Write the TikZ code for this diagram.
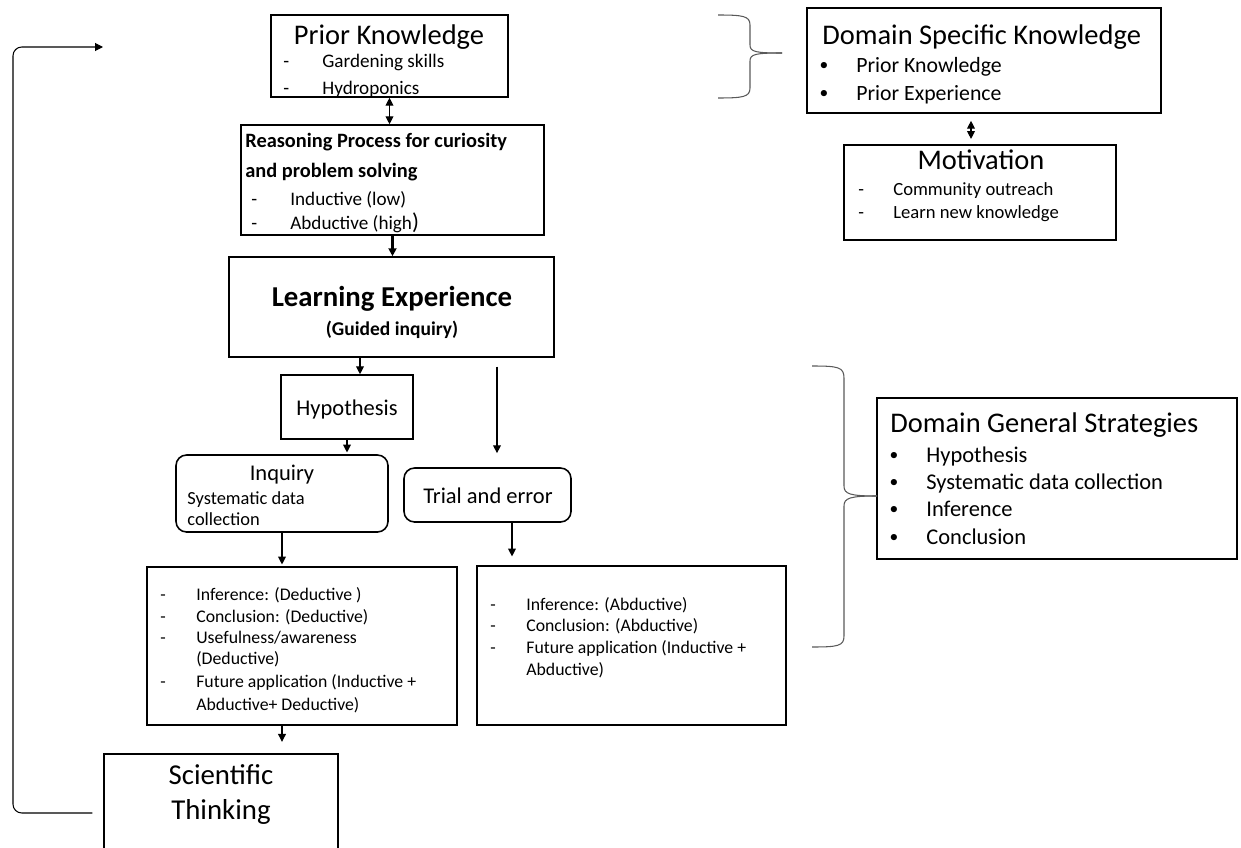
\documentclass[tikz,border=0pt]{standalone}
\usepackage{fontspec}
\setmainfont{Carlito}
\usetikzlibrary{arrows.meta,fit}
\newcommand\fsz[1]{\fontsize{#1pt}{#1pt}\selectfont}

\begin{document}
\begin{tikzpicture}[x=0.02cm,y=-0.02cm,
  box/.style={draw, line width=0.9pt, inner sep=0pt, fit={#1}},
  rbox/.style={box={#1}, rounded corners=6pt},
  txt/.style={inner sep=0pt, anchor=mid west},
  ctxt/.style={inner sep=0pt, anchor=mid},
  arr/.style={line width=0.6pt, -{Triangle[length=4.5pt,width=4.5pt]}},
  dblarr/.style={line width=0.6pt, {Triangle[length=4.5pt,width=4.5pt]}-{Triangle[length=4.5pt,width=4.5pt]}},
  brace/.style={draw=black!65, line width=0.6pt},
  title/.style={font=\fsz{16.2}},
  item/.style={txt, font=\fsz{#1}},
  bul/.style={inner sep=0pt, anchor=center, font=\fsz{10}}
]
\useasboundingbox (0,0) rectangle (1241,848);
\clip (0,0) rectangle (1241,848);

% ---------- boxes ----------
\node[box={(271,15) (508,97)}] (pk) {};
\node[box={(241,125) (544,235)}] (reas) {};
\node[box={(229,257) (554,357)}] (learn) {};
\node[box={(281,375) (413,439)}] (hyp) {};
\node[rbox={(176,455) (388,532)}] (inq) {};
\node[rbox={(404,468) (571,522)}] (trial) {};
\node[box={(147,567) (457,725)}] (ded) {};
\node[box={(477,566) (786,725)}] (abd) {};
\node[box={(104,754) (338,872)}] (sci) {};
\node[box={(807,8) (1161,113)}] (dsk) {};
\node[box={(844,145) (1116,240)}] (mot) {};
\node[box={(877,398) (1237,559)}] (dgs) {};

% ---------- texts ----------
\node[ctxt, title] (pkt) at (389,40) {Prior Knowledge};
\node[item=10.9] (pkd1) at (283,63) {-};
\node[item=10.9] (pki1) at (322,63) {Gardening skills};
\node[item=10.9] (pkd2) at (283,90) {-};
\node[item=10.9] (pki2) at (322,90) {Hydroponics};

\node[txt, font=\fsz{11.6}\bfseries] (rt1) at (245,143) {Reasoning Process for curiosity};
\node[txt, font=\fsz{11.6}\bfseries] (rt2) at (245,173) {and problem solving};
\node[item=10.9] (rd1) at (251,201) {-};
\node[item=10.9] (ri1) at (290,201) {Inductive (low)};
\node[item=10.9] (rd2) at (251,225) {-};
\node[item=10.9] (ri2) at (290,225) {Abductive (high{\fsz{13})}};

\node[ctxt, font=\fsz{16.4}\bfseries] (lt1) at (392,302) {Learning Experience};
\node[ctxt, font=\fsz{11.1}\bfseries] (lt2) at (392,331) {(Guided inquiry)};

\node[ctxt, font=\fsz{12.8}] (hypt) at (347,411) {Hypothesis};

\node[ctxt, font=\fsz{12.8}] (inqt) at (282,476) {Inquiry};
\node[item=10.5] (inq1) at (187,500) {Systematic data};
\node[item=10.5] (inq2) at (187,521) {collection};

\node[ctxt, font=\fsz{12.8}] (trt) at (488,499) {Trial and error};

\node[item=10.1] (dd1) at (160,596) {-};
\node[item=10.1] (di1) at (196,596) {Inference: (Deductive )};
\node[item=10.1] (dd2) at (160,618) {-};
\node[item=10.1] (di2) at (196,618) {Conclusion: (Deductive)};
\node[item=10.1] (dd3) at (160,639) {-};
\node[item=10.1] (di3) at (196,639) {Usefulness/awareness};
\node[item=10.1] (di3b) at (196,660) {(Deductive)};
\node[item=10.1] (dd4) at (160,683) {-};
\node[item=10.1] (di4) at (196,683) {Future application (Inductive +};
\node[item=10.1] (di4b) at (196,706) {Abductive+ Deductive)};

\node[item=10.1] (ad1) at (490,606) {-};
\node[item=10.1] (ai1) at (526,606) {Inference: (Abductive)};
\node[item=10.1] (ad2) at (490,627) {-};
\node[item=10.1] (ai2) at (526,627) {Conclusion: (Abductive)};
\node[item=10.1] (ad3) at (490,649) {-};
\node[item=10.1] (ai3) at (526,649) {Future application (Inductive +};
\node[item=10.1] (ai3b) at (526,671) {Abductive)};

\node[ctxt, font=\fsz{16.4}] (st1) at (221,780) {Scientific};
\node[ctxt, font=\fsz{16.4}] (st2) at (221,815) {Thinking};

\node[txt, title] (dskt) at (822,40) {Domain Specific Knowledge};
\node[bul] (dskb1) at (824,66) {•};
\node[item=12.4] (dski1) at (856,68) {Prior Knowledge};
\node[bul] (dskb2) at (824,94) {•};
\node[item=12.4] (dski2) at (856,96) {Prior Experience};

\node[ctxt, title] (mott) at (981,165) {Motivation};
\node[item=10.6] (motd1) at (858,191) {-};
\node[item=10.6] (moti1) at (893,191) {Community outreach};
\node[item=10.6] (motd2) at (858,214) {-};
\node[item=10.6] (moti2) at (893,214) {Learn new knowledge};

\node[txt, title] (dgst) at (890,428) {Domain General Strategies};
\node[bul] (dgsb1) at (894,456) {•};
\node[item=12.8] (dgsi1) at (926,458) {Hypothesis};
\node[bul] (dgsb2) at (894,483) {•};
\node[item=12.8] (dgsi2) at (926,485) {Systematic data collection};
\node[bul] (dgsb3) at (894,510) {•};
\node[item=12.8] (dgsi3) at (926,512) {Inference};
\node[bul] (dgsb4) at (894,538) {•};
\node[item=12.8] (dgsi4) at (926,540) {Conclusion};

% ---------- connectors ----------
\draw[dblarr] (pk.south) -- (pk.south |- reas.north);
\draw[arr, line width=1.2pt] (reas.south) -- (reas.south |- learn.north);

\coordinate (hx) at (360,0);
\draw[arr] (hx |- learn.south) -- (hx |- hyp.north);
\draw[arr, shorten >=1pt] (hyp.south) -- (hyp.south |- inq.north);

\coordinate (tx) at (497,0);
\draw[arr, shorten <=5pt, shorten >=8pt] (tx |- learn.south) -- (tx |- trial.north);

\draw[arr, shorten >=1pt] (inq.south) -- (inq.south |- ded.north);
\coordinate (ax) at (512,0);
\draw[arr, shorten >=5pt] (ax |- trial.south) -- (ax |- abd.north);

\coordinate (sx) at (282,0);
\draw[arr, shorten >=6.5pt] (sx |- ded.south) -- (sx |- sci.north);

\draw[dblarr, shorten <=4pt, shorten >=3pt] (dsk.south -| 971,0) -- (mot.north -| 971,0);

% feedback loop from Scientific Thinking back to Prior Knowledge
\coordinate (fbx) at (13,0);
\coordinate (fbend) at (103,47);
\draw[arr, rounded corners=5pt, shorten <=6.2pt]
  (sci.west) -- (sci.west -| fbx) -- (fbx |- fbend) -- (fbend);

% ---------- braces ----------
\draw[brace] (718,15) .. controls (743,15) and (750,16) .. (750,25) -- (750,45)
  .. controls (750,52) and (756,53) .. (782,53);
\draw[brace] (782,53) .. controls (756,53) and (750,54) .. (750,61) -- (750,88)
  .. controls (750,97) and (743,98) .. (718,98);

\draw[brace] (812,366) .. controls (838,366) and (844,367) .. (844,378) -- (844,486)
  .. controls (844,494) and (850,496) .. (877,496);
\draw[brace] (877,496) .. controls (850,496) and (844,498) .. (844,506) -- (844,636)
  .. controls (844,646) and (838,647) .. (812,647);
\end{tikzpicture}
\end{document}
